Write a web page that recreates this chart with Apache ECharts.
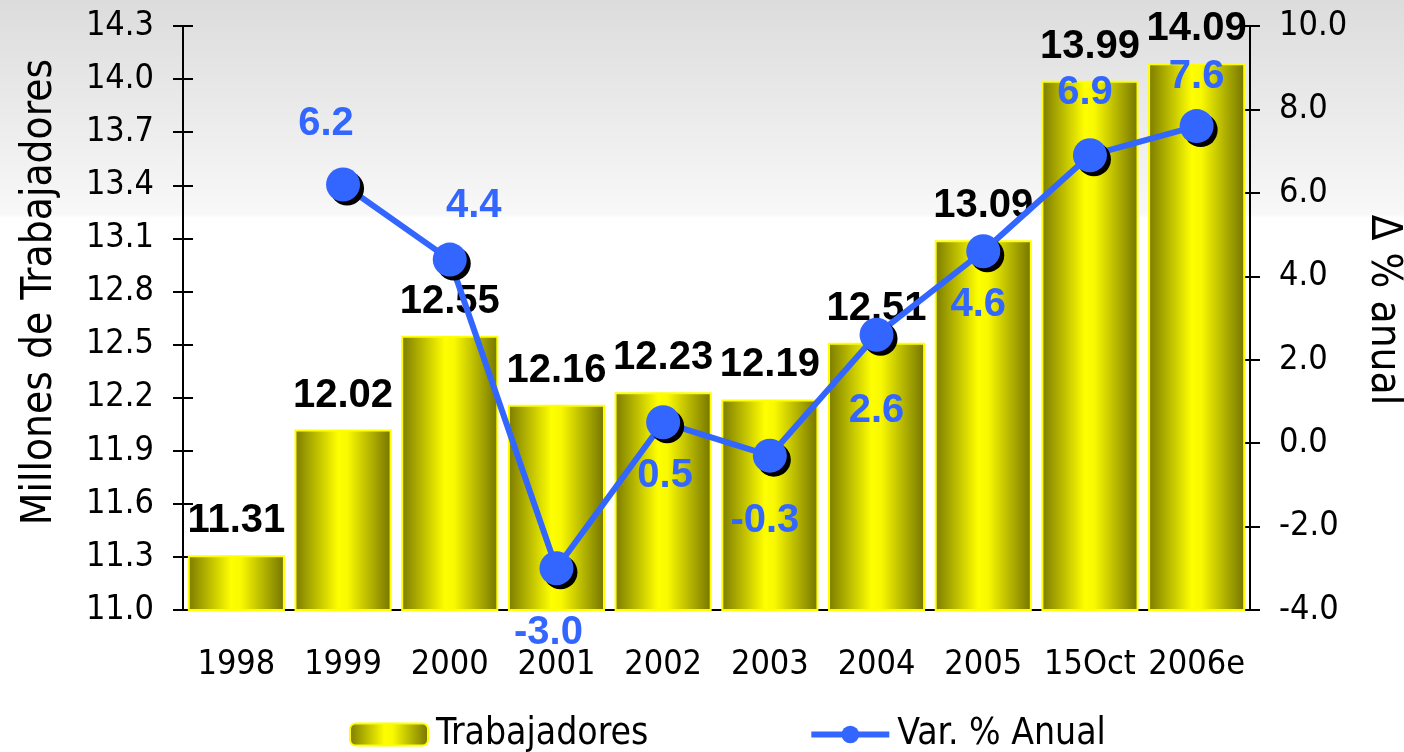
<!DOCTYPE html>
<html><head><meta charset="utf-8">
<script src="https://cdn.jsdelivr.net/npm/echarts@6/dist/echarts.min.js"></script>
<style>html,body{margin:0;padding:0;background:#fff}#c{width:1404px;height:752px}</style>
</head><body><div id="c"></div>
<script>
// ---- data ----
const categories = ['1998','1999','2000','2001','2002','2003','2004','2005','15Oct','2006e'];
const trabajadores = [11.31, 12.02, 12.55, 12.16, 12.23, 12.19, 12.51, 13.09, 13.99, 14.09];
const variacion = [null, 6.2, 4.4, -3.0, 0.5, -0.3, 2.6, 4.6, 6.9, 7.6];
const leftScale = { min: 11.0, max: 14.3, interval: 0.3 };
const rightScale = { min: -4, max: 10, interval: 2 };
const seriesNames = ['Trabajadores', 'Var. % Anual'];
const axisNames = ['Millones de Trabajadores', 'Δ % anual'];

// ---- label placement (style only) ----
const lineLabelOffsets = [null, [-17,-61], [24,-54], [-8,65], [2,54], [-5,65], [0,76], [-5,54], [-5,-62], [0,-49]];

const tickFont = "'DejaVu Sans Condensed', 'Noto Sans', sans-serif";
const boldFont = "'Liberation Sans', Arial, sans-serif";
const blue = '#3366ff';

const barGradient = new echarts.graphic.LinearGradient(0, 0, 1, 0, [
  { offset: 0, color: '#7a7a00' },
  { offset: 0.45, color: '#ffff00' },
  { offset: 0.55, color: '#f8f800' },
  { offset: 1, color: '#737300' }
]);

const lineData = variacion.map((v, i) => v === null ? '-' : {
  value: v,
  label: { offset: lineLabelOffsets[i] }
});

function axisCommon(scale, pos, labelsOn, inside) {
  return {
    type: 'value', position: pos, min: scale.min, max: scale.max, interval: scale.interval,
    axisLine: { show: labelsOn, onZero: false, lineStyle: { color: '#000', width: 2 } },
    axisTick: { show: true, inside: inside, length: 10, lineStyle: { color: '#000', width: 2 } },
    axisLabel: { show: labelsOn, margin: 29, color: '#000', fontSize: 34, fontFamily: tickFont,
      formatter: v => Number(v).toFixed(1) },
    splitLine: { show: false }
  };
}

const yLeft = Object.assign(axisCommon(leftScale, 'left', true, false), {
  name: axisNames[0], nameLocation: 'middle', nameGap: 122, nameRotate: 90,
  nameTextStyle: { fontSize: 42, fontFamily: tickFont, color: '#000', padding: [0, 0, 0, 52] }
});
const yRight = Object.assign(axisCommon(rightScale, 'right', true, false), {
  name: axisNames[1], nameLocation: 'middle', nameGap: 112, nameRotate: -90,
  nameTextStyle: { fontSize: 42, fontFamily: tickFont, color: '#000', padding: [0, 16, 0, 0] }
});
const yLeftIn = axisCommon(leftScale, 'left', false, true);
const yRightIn = axisCommon(rightScale, 'right', false, true);

const option = {
  animation: false,
  backgroundColor: new echarts.graphic.LinearGradient(0, 0, 0, 1, [
    { offset: 0, color: '#dcdcdc' },
    { offset: 0.285, color: '#f8f8f8' },
    { offset: 0.29, color: '#ffffff' },
    { offset: 1, color: '#ffffff' }
  ]),
  grid: { left: 183, right: 154, top: 26, bottom: 142, containLabel: false, outerBoundsMode: 'none' },
  legend: {
    data: seriesNames, left: 344, top: 711, itemWidth: 78, itemHeight: 22, itemGap: 160,
    lineStyle: { width: 6 },
    textStyle: { fontSize: 37, fontFamily: tickFont, color: '#000', padding: [0, 0, 0, 3] }
  },
  xAxis: [
    { type: 'category', data: categories, position: 'bottom',
      axisLine: { onZero: false, lineStyle: { color: '#000', width: 2 } },
      axisTick: { inside: false, length: 10, lineStyle: { color: '#000', width: 2 } },
      axisLabel: { interval: 0, margin: 38, color: '#000', fontSize: 34, fontFamily: tickFont } },
    { type: 'category', data: categories, position: 'bottom',
      axisLine: { show: false, onZero: false },
      axisTick: { inside: true, length: 10, lineStyle: { color: '#000', width: 2 } },
      axisLabel: { show: false } }
  ],
  yAxis: [yLeft, yRight, yLeftIn, yRightIn],
  series: [
    { name: seriesNames[0], type: 'bar', xAxisIndex: 0, yAxisIndex: 0, z: 2,
      data: trabajadores, barCategoryGap: '9%',
      itemStyle: { color: barGradient, borderColor: '#ffff00', borderWidth: 2 },
      label: { show: true, position: 'top', distance: 14, color: '#000', fontSize: 40,
        fontWeight: 'bold', fontFamily: boldFont, formatter: p => p.value.toFixed(2) } },
    { name: seriesNames[1], type: 'line', xAxisIndex: 0, yAxisIndex: 1, z: 3,
      data: lineData, connectNulls: false,
      symbol: 'circle', symbolSize: 34,
      lineStyle: { color: blue, width: 6 },
      itemStyle: { color: blue, shadowColor: '#000', shadowBlur: 0, shadowOffsetX: 4, shadowOffsetY: 4 },
      label: { show: true, position: 'inside', color: blue, fontSize: 40, fontWeight: 'bold',
        fontFamily: boldFont, formatter: p => Number(p.value).toFixed(1) } }
  ]
};
const chart = echarts.init(document.getElementById('c'), null, { renderer: 'canvas' });
chart.setOption(option);
</script></body></html>
